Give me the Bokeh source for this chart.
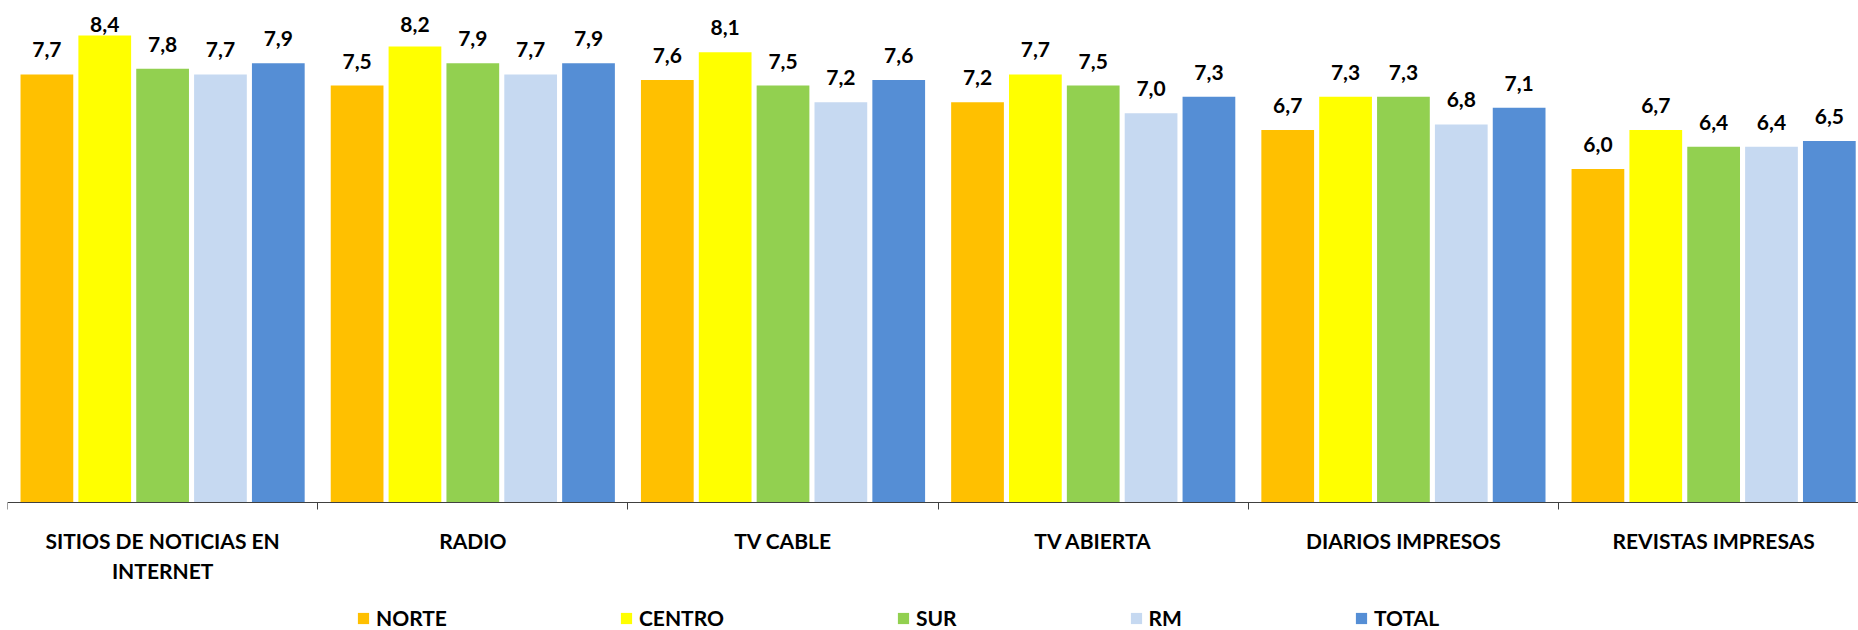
from bokeh.plotting import figure
from bokeh.models import ColumnDataSource, FixedTicker, Range1d, Legend, LegendItem
from bokeh.core.properties import value
from bokeh.embed import file_html
from bokeh.resources import INLINE

# ---- data ----
categories = ["SITIOS DE NOTICIAS EN\nINTERNET", "RADIO", "TV CABLE",
              "TV ABIERTA", "DIARIOS IMPRESOS", "REVISTAS IMPRESAS"]
series = ["NORTE", "CENTRO", "SUR", "RM", "TOTAL"]
norte = [7.7, 7.5, 7.6, 7.2, 6.7, 6.0]
centro = [8.4, 8.2, 8.1, 7.7, 7.3, 6.7]
sur = [7.8, 7.9, 7.5, 7.5, 7.3, 6.4]
rm = [7.7, 7.7, 7.2, 7.0, 6.8, 6.4]
total = [7.9, 7.9, 7.6, 7.3, 7.1, 6.5]
colors = ["#FFC000", "#FFFF00", "#92D050", "#C6D9F1", "#558ED5"]

values = [norte, centro, sur, rm, total]

FONT = "Lato"
BAR_W = 0.170
STRIDE = 0.1865
LABEL_GAP = 0.44     # data units between bar top and label centre
LABEL_MAX = 8.60     # labels are kept inside the chart area (as in Excel)

p = figure(width=1858, height=630, output_backend="svg", toolbar_location=None,
           x_range=Range1d(0, 5.967), y_range=Range1d(-2.302, 8.885),
           y_axis_location=None, min_border_left=7, min_border_right=0,
           min_border_top=8, min_border_bottom=0)
p.outline_line_color = None
p.grid.visible = False
p.background_fill_color = "white"
p.border_fill_color = "white"

items = []
for k, (name, vals, col) in enumerate(zip(series, values, colors)):
    xs = [i + 0.5 + (k - 2) * STRIDE for i in range(len(categories))]
    src = ColumnDataSource(dict(
        x=xs, top=vals,
        ly=[min(v + LABEL_GAP, LABEL_MAX) for v in vals],
        lab=[f"{v:.1f}".replace(".", ",") for v in vals]))
    r = p.vbar(x="x", top="top", bottom=0, width=BAR_W, source=src,
               fill_color=col, line_color=None)
    p.text(x="x", y="ly", text="lab", source=src, text_align="center",
           text_baseline="middle", text_font=value(FONT),
           text_font_style="bold", text_font_size="21px", text_color="#000000")
    items.append(LegendItem(label=name, renderers=[r]))

ax = p.xaxis[0]
ax.fixed_location = 0
ax.ticker = FixedTicker(ticks=[i + 0.5 for i in range(len(categories))],
                        minor_ticks=list(range(len(categories) + 1)))
ax.major_label_overrides = {i + 0.5: c for i, c in enumerate(categories)}
ax.major_tick_out = 0
ax.major_tick_in = 0
ax.minor_tick_out = 7
ax.minor_tick_in = 0
ax.minor_tick_line_color = "#404040"
ax.axis_line_color = "#404040"
ax.axis_line_width = 1
ax.major_label_standoff = 18
ax.major_label_text_font = FONT
ax.major_label_text_font_style = "bold"
ax.major_label_text_font_size = "21px"
ax.major_label_text_color = "#000000"

legend = Legend(items=items, orientation="horizontal", location=(349, 0),
                glyph_width=14, glyph_height=14, label_standoff=6, spacing=172,
                padding=0, margin=0, border_line_color=None,
                background_fill_alpha=0,
                label_text_font=FONT, label_text_font_style="bold",
                label_text_font_size="21px", label_text_color="#000000")
p.add_layout(legend)

open("out.html", "w").write(file_html(p, INLINE))
